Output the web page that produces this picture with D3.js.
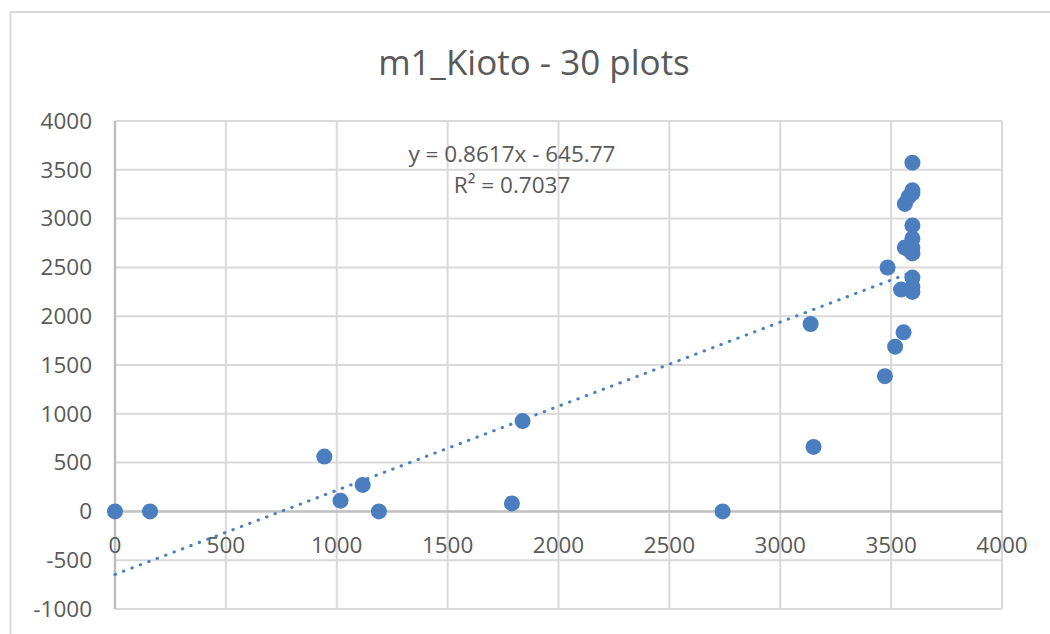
<!DOCTYPE html>
<html lang="en">
<head>
    <meta charset="UTF-8">
    <title>m1_Kioto - 30 plots</title>
    <script src="https://d3js.org/d3.v7.min.js"></script>
    <style>
        body { margin: 0; background: #fff; }
        svg { display: block; font-family: "Open Sans", sans-serif; }
        .grid line { stroke: #d9d9d9; stroke-width: 2px; }
        .axis-line { stroke: #bfbfbf; stroke-width: 2.5px; }
        .tick-label { font-size: 22.5px; fill: #595959; }
        .title { font-size: 35px; fill: #595959; }
        .trend { fill: none; stroke: #4a7ebf; stroke-width: 3px; stroke-linecap: round; stroke-dasharray: 0.5 8.5; }
        .dot { fill: #4a7ebf; }
        .eq { font-size: 22.5px; fill: #595959; text-anchor: middle; }
    </style>
</head>
<body>
<div id="chart"></div>
<script>
    // values
    const xValues = [0, 158, 944, 1017, 1117, 1190, 1790, 1838, 2740, 3150,
                     3137, 3472, 3518, 3556, 3484, 3545, 3596, 3596, 3596, 3562,
                     3596, 3596, 3562, 3578, 3596, 3596, 3596, 3596, 3596, 3580];
    const yValues = [0, 0, 562, 110, 271, 0, 82, 925, 0, 661,
                     1920, 1386, 1688, 1835, 2499, 2273, 2249, 2396, 2643, 2704,
                     2797, 2930, 3150, 3220, 3290, 3573, 2300, 2700, 3260, 2680];
    const xTicks = [0, 500, 1000, 1500, 2000, 2500, 3000, 3500, 4000];
    const yTicks = [-1000, -500, 0, 500, 1000, 1500, 2000, 2500, 3000, 3500, 4000];
    const slope = 0.8617, intercept = -645.77;
    const rSquared = 0.7037;
    const chartTitle = "m1_Kioto - 30 plots";

    const W = 1050, H = 634;
    const margin = {top: 121, right: 48, bottom: 25, left: 115};

    const svg = d3.select("#chart").append("svg")
        .attr("width", W).attr("height", H);

    // outer chart frame
    svg.append("rect")
        .attr("x", 10.5).attr("y", 12).attr("width", W + 20).attr("height", H + 20)
        .attr("fill", "none").attr("stroke", "#d9d9d9").attr("stroke-width", 2);

    const x = d3.scaleLinear().domain([0, 4000]).range([margin.left, W - margin.right]);
    const y = d3.scaleLinear().domain([-1000, 4000]).range([H - margin.bottom, margin.top]);

    svg.append("text").attr("class", "title")
        .attr("x", 534).attr("y", 75).attr("text-anchor", "middle")
        .text(chartTitle);

    // gridlines
    const grid = svg.append("g").attr("class", "grid");
    grid.selectAll(".v").data(xTicks.filter(d => d !== 0)).join("line")
        .attr("x1", d => x(d)).attr("x2", d => x(d))
        .attr("y1", y(4000)).attr("y2", y(-1000));
    grid.selectAll(".h").data(yTicks.filter(d => d !== 0)).join("line")
        .attr("x1", x(0)).attr("x2", x(4000))
        .attr("y1", d => y(d)).attr("y2", d => y(d));

    // axis lines through zero
    svg.append("line").attr("class", "axis-line")
        .attr("x1", x(0)).attr("x2", x(0)).attr("y1", y(4000)).attr("y2", y(-1000));
    svg.append("line").attr("class", "axis-line")
        .attr("x1", x(0)).attr("x2", x(4000)).attr("y1", y(0)).attr("y2", y(0));

    // tick labels
    svg.selectAll(".ylab").data(yTicks).join("text")
        .attr("class", "tick-label")
        .attr("x", 92).attr("y", d => y(d))
        .attr("dy", "0.35em").attr("text-anchor", "end")
        .text(d => d);
    svg.selectAll(".xlab").data(xTicks).join("text")
        .attr("class", "tick-label")
        .attr("x", d => x(d)).attr("y", y(0) + 34)
        .attr("dy", "0.35em").attr("text-anchor", "middle")
        .text(d => d);

    const points = xValues.map((v, i) => ({x: v, y: yValues[i]}));

    svg.selectAll(".dot").data(points).join("circle")
        .attr("class", "dot")
        .attr("cx", d => x(d.x)).attr("cy", d => y(d.y)).attr("r", 8);

    // linear trendline over the data range
    const xr = d3.extent(xValues);
    svg.append("path").attr("class", "trend")
        .attr("d", d3.line().x(d => x(d)).y(d => y(slope * d + intercept))(xr));

    svg.append("text").attr("class", "eq")
        .attr("x", 512).attr("y", 154).attr("dy", "0.35em")
        .text(`y = ${slope}x - ${Math.abs(intercept)}`);
    svg.append("text").attr("class", "eq")
        .attr("x", 512).attr("y", 185).attr("dy", "0.35em")
        .text(`R² = ${rSquared}`);
</script>
</body>
</html>
